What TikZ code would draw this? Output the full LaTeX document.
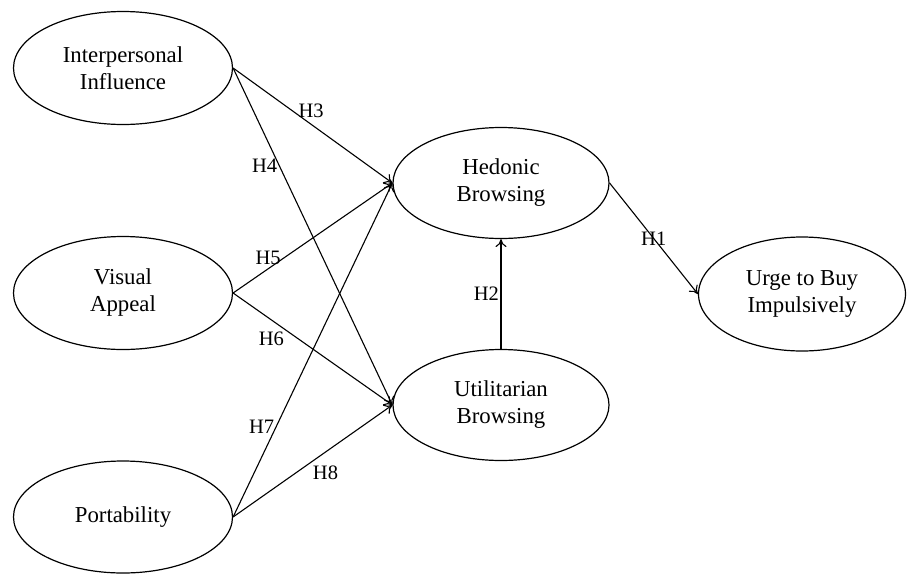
\documentclass[tikz,border=0pt]{standalone}
\usepackage{fontspec}
\setmainfont{Liberation Serif}
\usetikzlibrary{shapes.geometric,arrows.meta}
\tikzset{
  construct/.style={ellipse, draw, line width=1.2pt, inner sep=0pt,
    align=center, font=\fontsize{22.8}{27}\selectfont},
  link/.style={line width=1.1pt, -{To[length=8pt,width=11pt]}},
  hyp/.style={font=\fontsize{20.5}{24}\selectfont, inner sep=1.5pt}
}
\begin{document}
\begin{tikzpicture}[x=1pt,y=-1pt]
\useasboundingbox (0,0) rectangle (911,574);

% constructs
\node[construct, minimum width=219pt, minimum height=113pt] (ii) at (123,68) {Interpersonal\\Influence};
\node[construct, minimum width=219pt, minimum height=113pt] (va) at (123,293) {Visual\\Appeal};
\node[construct, minimum width=219pt, minimum height=112pt] (po) at (123,517) {Portability};
\node[construct, minimum width=216pt, minimum height=111pt] (hb) at (501,183) {Hedonic\\Browsing};
\node[construct, minimum width=216pt, minimum height=111pt] (ub) at (501,405) {Utilitarian\\Browsing};
\node[construct, minimum width=207pt, minimum height=114pt] (ui) at (802,294) {Urge to Buy\\Impulsively};

% hypothesised paths
\draw[link] (ii.east) -- node[hyp, pos=0.49, above=5pt] {H3} (hb.west);
\draw[link] (ii.east) -- node[hyp, pos=0.29, left=0pt] {H4} (ub.west);
\draw[link] (va.east) -- node[hyp, pos=0.22, above=2pt] {H5} (hb.west);
\draw[link] (va.east) -- node[hyp, pos=0.24, below=10pt] {H6} (ub.west);
\draw[link] (po.east) -- node[hyp, pos=0.27, left=0pt] {H7} (hb.west);
\draw[link] (po.east) -- node[hyp, pos=0.58, below=12pt] {H8} (ub.west);
\draw[link] (ub.north) -- node[hyp, pos=0.5, left=0pt] {H2} (hb.south);
\draw[link] (hb.east) -- node[hyp, pos=0.5] {H1} (ui.west);
\end{tikzpicture}
\end{document}
